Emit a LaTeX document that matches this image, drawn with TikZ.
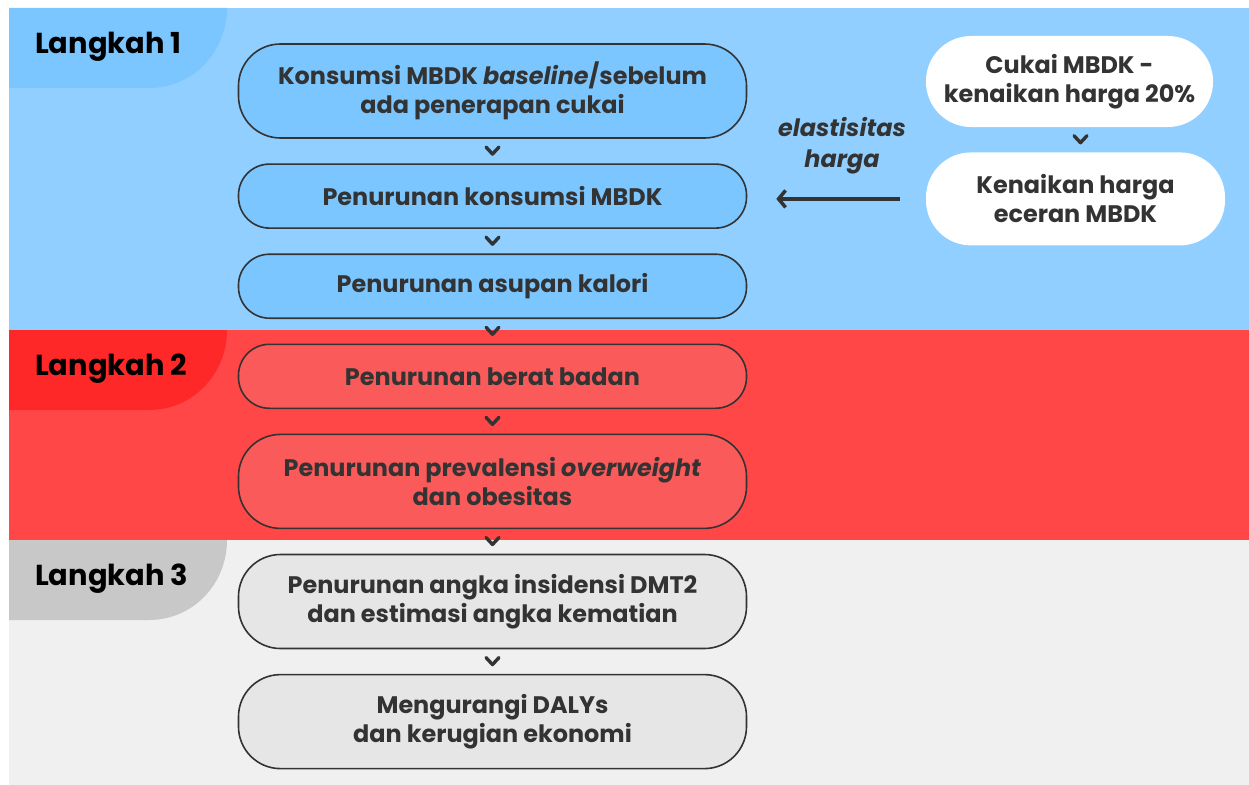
\documentclass[tikz,border=0pt]{standalone}
\usepackage{fontspec}
\setmainfont{Poppins}
\usetikzlibrary{arrows.meta, positioning, calc}

\definecolor{bandblue}{HTML}{90CFFF}
\definecolor{tabblue}{HTML}{7CC6FF}
\definecolor{boxblue}{HTML}{7CC6FF}
\definecolor{bandred}{HTML}{FF4747}
\definecolor{tabred}{HTML}{FF2828}
\definecolor{boxred}{HTML}{FA5A5A}
\definecolor{bandgray}{HTML}{F0F0F0}
\definecolor{tabgray}{HTML}{C8C8C8}
\definecolor{boxgray}{HTML}{E6E6E6}
\definecolor{textgray}{HTML}{333333}

\begin{document}
\begin{tikzpicture}[
    x=1bp, y=-1bp,
    node distance=24.5bp,
    every node/.style={font=\fontsize{24}{29}\selectfont\bfseries, align=center, text=textgray},
    stepbox/.style={rectangle, draw=textgray, line width=1.6bp, rounded corners=31bp, minimum width=508bp, minimum height=64bp, inner sep=0pt},
    tallbox/.style={stepbox, rounded corners=42bp, minimum height=94bp},
    pricebox/.style={rectangle, fill=white, rounded corners=45bp, inner sep=0pt},
    tablabel/.style={font=\fontsize{29}{34}\selectfont\bfseries, text=black, anchor=west, inner sep=0pt},
    chev/.style={line width=3.4bp, textgray, line cap=round, line join=round},
    arrow/.style={-{Straight Barb[length=7bp, width=17bp]}, line width=3.5bp, textgray}
]
    \useasboundingbox (0,0) rectangle (1249,785);

    % Bands and step tabs
    \fill[bandblue] (9,8) rectangle (1249,330);
    \fill[bandred] (9,330) rectangle (1249,540);
    \fill[bandgray] (9,540) rectangle (1249,785);
    \foreach \y/\col in {8/tabblue, 330/tabred, 540/tabgray}
        \fill[\col] (9,\y) -- (227,\y) .. controls (227,\y+44) and (193,\y+80) .. (149,\y+80) -- (9,\y+80) -- cycle;
    \node[tablabel] (lk1) at (35,47) {Langkah 1};
    \node[tablabel] (lk2) at (35,369) {Langkah 2};
    \node[tablabel] (lk3) at (35,579) {Langkah 3};

    % Main chain
    \node[tallbox, fill=boxblue] (b1) at (492.5,91) {Konsumsi MBDK \textit{baseline}/sebelum\\ada penerapan cukai};
    \node[stepbox, fill=boxblue, below=of b1] (b2) {Penurunan konsumsi MBDK};
    \node[stepbox, fill=boxblue, below=of b2] (b3) {Penurunan asupan kalori};
    \node[stepbox, fill=boxred, below=of b3] (b4) {Penurunan berat badan};
    \node[tallbox, fill=boxred, below=of b4] (b5) {Penurunan prevalensi \textit{overweight}\\dan obesitas};
    \node[tallbox, fill=boxgray, below=of b5] (b6) {Penurunan angka insidensi DMT2\\dan estimasi angka kematian};
    \node[tallbox, fill=boxgray, below=of b6] (b7) {Mengurangi DALYs\\dan kerugian ekonomi};

    % Price side
    \node[pricebox, minimum width=287bp, minimum height=91bp] (rA) at (1069.5,81.5) {Cukai MBDK -\\kenaikan harga 20\%};
    \node[pricebox, minimum width=299bp, minimum height=93bp, below=25bp of rA, xshift=6bp] (rB) {Kenaikan harga\\eceran MBDK};

    % Chevrons
    \foreach \a/\b in {b1/b2, b2/b3, b3/b4, b4/b5, b5/b6, b6/b7}
        \draw[chev] ($(\a.south)!0.5!(\b.north)$) +(-6.5,-4) -- +(0,3) -- +(6.5,-4);
    \draw[chev] ($(rA.south)!0.5!(rB.north) + (8,0)$) +(-6.5,-4) -- +(0,3) -- +(6.5,-4);

    % Elasticity arrow
    \draw[arrow, shorten <=26bp, shorten >=29bp] (rB.west) -- (rB.west -| b2.east);
    \node[font=\fontsize{24}{31}\selectfont\bfseries\itshape] (el) at (842,146) {elastisitas\\harga};
\end{tikzpicture}
\end{document}
